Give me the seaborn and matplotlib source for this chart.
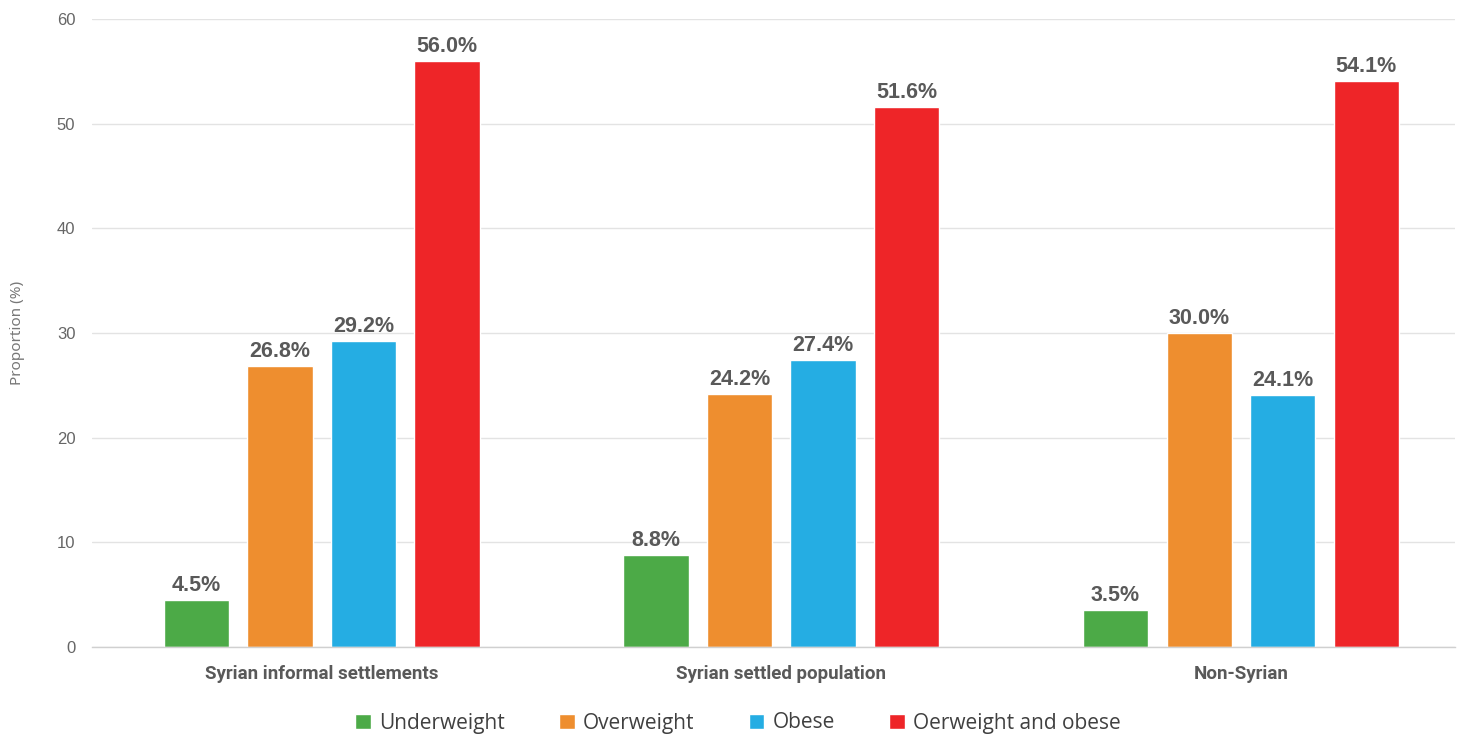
import matplotlib
matplotlib.use("Agg")
import matplotlib.pyplot as plt
import seaborn as sns
import pandas as pd

categories = ["Syrian informal settlements", "Syrian settled population", "Non-Syrian"]
series = ["Underweight", "Overweight", "Obese", "Oerweight and obese"]
underweight = [4.5, 8.8, 3.5]
overweight = [26.8, 24.2, 30.0]
obese = [29.2, 27.4, 24.1]
over_obese = [56.0, 51.6, 54.1]
colors = ["#4CAA47", "#EE8E2F", "#25ADE3", "#EE2528"]

rows = []
for name, vals in zip(series, [underweight, overweight, obese, over_obese]):
    for c, v in zip(categories, vals):
        rows.append({"Group": c, "Measure": name, "Value": v})
df = pd.DataFrame(rows)

sns.set_theme(style="white")
plt.rcParams["font.family"] = ["Roboto", "DejaVu Sans"]

fig = plt.figure(figsize=(14.64, 7.40), dpi=100)
W, H = 1464, 740
ax = fig.add_axes([92 / W, 93 / H, (1455 - 92) / W, (647 - 19) / H])

sns.barplot(data=df, x="Group", y="Value", hue="Measure", order=categories,
            hue_order=series, palette=colors, width=0.727, gap=0.22,
            saturation=1, ax=ax, legend=True, errorbar=None)

ax.set_xlim(-0.5, 2.466)
ax.set_ylim(0, 60)
ax.set_yticks([0, 10, 20, 30, 40, 50, 60])
ax.grid(axis="y", color="#e3e3e3", linewidth=1)
ax.set_axisbelow(True)
for s in ["top", "right", "left"]:
    ax.spines[s].set_visible(False)
ax.spines["bottom"].set_color("#d0d0d0")
ax.spines["bottom"].set_linewidth(1)
ax.tick_params(axis="y", length=0, labelsize=12, labelcolor="#666666", pad=12)
ax.tick_params(axis="x", length=0, pad=13)
for lab in ax.get_yticklabels():
    lab.set_fontfamily(["Liberation Sans", "DejaVu Sans"])
for lab in ax.get_xticklabels():
    lab.set_fontweight("bold")
    lab.set_fontsize(13.5)
    lab.set_color("#595959")
    lab.set_fontfamily(["Roboto", "DejaVu Sans"])
ax.set_xlabel("")
ax.set_ylabel("Proportion (%)", fontsize=11, color="#777777",
              fontfamily=["Noto Sans", "DejaVu Sans"])
ax.yaxis.set_label_coords(-0.049, 0.5)

for cont in ax.containers:
    ax.bar_label(cont, fmt="%.1f%%", padding=3, fontsize=15.5, fontweight="bold",
                 color="#595959", fontfamily=["Liberation Sans", "DejaVu Sans"])

ax.get_legend().remove()
handles, labels = ax.get_legend_handles_labels()
fig.legend(handles[:4], labels[:4], loc="center", bbox_to_anchor=(738 / W, 1 - 723 / H),
           ncol=4, frameon=False, handlelength=0.75, handleheight=0.75,
           handletextpad=0.4, columnspacing=2.6,
           prop={"family": ["Open Sans", "DejaVu Sans"], "size": 15},
           labelcolor="#404040")

fig.savefig("out.png", dpi=100)
